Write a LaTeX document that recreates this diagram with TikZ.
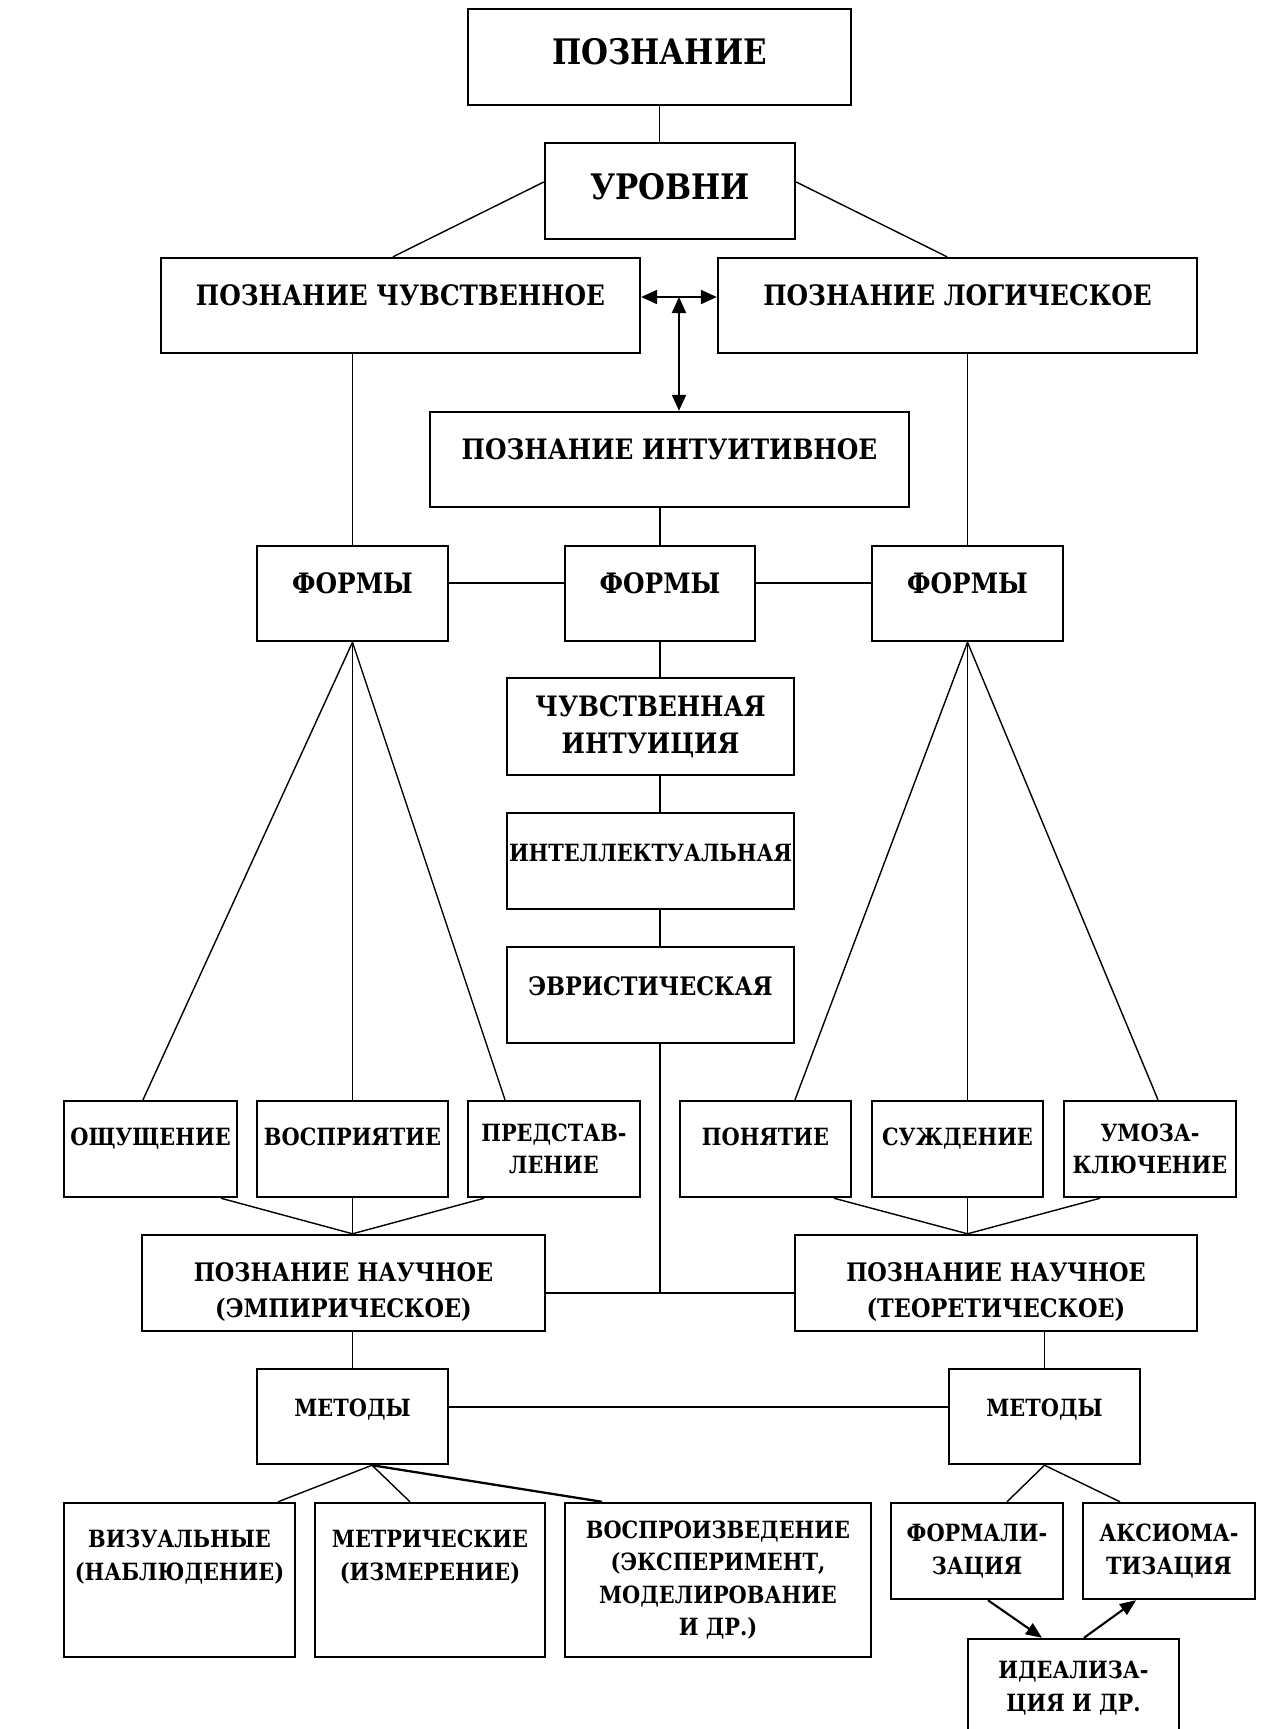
\documentclass[tikz,border=0pt]{standalone}
\usepackage{fontspec}
\setmainfont{DejaVu Serif}[FakeStretch=0.88]
\usetikzlibrary{arrows.meta, calc}

\newcommand{\titlefont}{\fontsize{20}{24}\selectfont\bfseries}
\newcommand{\boxfont}{\fontsize{16}{21}\selectfont\bfseries}
\newcommand{\midboxfont}{\fontsize{14.5}{20.5}\selectfont\bfseries}
\newcommand{\smallboxfont}{\fontsize{13.5}{18.5}\selectfont\bfseries}

\begin{document}
\begin{tikzpicture}[
    x=0.02cm, y=-0.02cm, line width=0.8pt,
    box/.style={draw, line width=1.4pt, align=center, inner sep=1pt,
                font=\boxfont},
    midbox/.style={box, font=\midboxfont},
    smallbox/.style={box, font=\smallboxfont},
    lift/.style={text height=12pt, text depth=12pt},
    rowlift/.style={text height=12pt, text depth=16pt},
    link/.style={line width=1.3pt},
    dbl/.style={line width=1.2pt, {Triangle[length=0.32cm, width=0.28cm]}-{Triangle[length=0.32cm, width=0.28cm]}},
    arr/.style={line width=1.2pt, -{Triangle[length=0.32cm, width=0.26cm]}}
  ]
    \useasboundingbox (0,0) rectangle (1261,1729);

    % levels
    \node[box, font=\titlefont, text height=15pt, text depth=6pt,
          minimum width=7.66cm, minimum height=1.92cm] (top) at (659.5,57) {ПОЗНАНИЕ};
    \node[box, font=\titlefont, text height=15pt, text depth=5pt,
          minimum width=5cm, minimum height=1.92cm] (lev) at (670,191) {УРОВНИ};
    \node[box, lift, minimum width=9.58cm, minimum height=1.9cm] (sens) at (400.5,305.5) {ПОЗНАНИЕ ЧУВСТВЕННОЕ};
    \node[box, lift, minimum width=9.58cm, minimum height=1.9cm] (logic) at (957.5,305.5) {ПОЗНАНИЕ ЛОГИЧЕСКОЕ};
    \node[box, lift, minimum width=9.58cm, minimum height=1.9cm] (intu) at (669.5,459.5) {ПОЗНАНИЕ ИНТУИТИВНОЕ};

    % forms
    \node[box, lift, minimum width=3.82cm, minimum height=1.9cm] (fl) at (352.5,593.5) {ФОРМЫ};
    \node[box, lift, minimum width=3.8cm, minimum height=1.9cm] (fc) at (660,593.5) {ФОРМЫ};
    \node[box, lift, minimum width=3.82cm, minimum height=1.9cm] (fr) at (967.5,593.5) {ФОРМЫ};

    \node[box, minimum width=5.74cm, minimum height=1.94cm] (si) at (650.5,726.5) {ЧУВСТВЕННАЯ\\ИНТУИЦИЯ};
    \node[smallbox, lift, minimum width=5.74cm, minimum height=1.92cm] (ii) at (650.5,861) {ИНТЕЛЛЕКТУАЛЬНАЯ};
    \node[midbox, lift, minimum width=5.74cm, minimum height=1.92cm] (ei) at (650.5,995) {ЭВРИСТИЧЕСКАЯ};

    \node[smallbox, rowlift, minimum width=3.46cm, minimum height=1.92cm] (sen) at (150.5,1149) {ОЩУЩЕНИЕ};
    \node[smallbox, rowlift, minimum width=3.82cm, minimum height=1.92cm] (per) at (352.5,1149) {ВОСПРИЯТИЕ};
    \node[smallbox, minimum width=3.44cm, minimum height=1.92cm] (rep) at (554,1149) {ПРЕДСТАВ-\\ЛЕНИЕ};
    \node[smallbox, rowlift, minimum width=3.42cm, minimum height=1.92cm] (con) at (765.5,1149) {ПОНЯТИЕ};
    \node[smallbox, rowlift, minimum width=3.42cm, minimum height=1.92cm] (jud) at (957.5,1149) {СУЖДЕНИЕ};
    \node[smallbox, minimum width=3.44cm, minimum height=1.92cm] (inf) at (1150,1149) {УМОЗА-\\КЛЮЧЕНИЕ};

    % scientific knowledge and methods
    \node[midbox, text height=42pt, minimum width=8.06cm, minimum height=1.92cm] (emp) at (343.5,1283) {ПОЗНАНИЕ НАУЧНОЕ\\(ЭМПИРИЧЕСКОЕ)};
    \node[midbox, text height=42pt, minimum width=8.04cm, minimum height=1.92cm] (theo) at (996,1283) {ПОЗНАНИЕ НАУЧНОЕ\\(ТЕОРЕТИЧЕСКОЕ)};
    \node[smallbox, lift, minimum width=3.82cm, minimum height=1.9cm] (ml) at (352.5,1416.5) {МЕТОДЫ};
    \node[smallbox, lift, minimum width=3.82cm, minimum height=1.9cm] (mr) at (1044.5,1416.5) {МЕТОДЫ};

    \node[smallbox, minimum width=4.62cm, minimum height=3.08cm] (viz) at (179.5,1580) {ВИЗУАЛЬНЫЕ\\(НАБЛЮДЕНИЕ)\\[10pt]};
    \node[smallbox, minimum width=4.6cm, minimum height=3.08cm] (met) at (430,1580) {МЕТРИЧЕСКИЕ\\(ИЗМЕРЕНИЕ)\\[10pt]};
    \node[smallbox, minimum width=6.12cm, minimum height=3.08cm] (vos) at (718,1580) {ВОСПРОИЗВЕДЕНИЕ\\(ЭКСПЕРИМЕНТ,\\МОДЕЛИРОВАНИЕ\\И ДР.)};
    \node[smallbox, minimum width=3.44cm, minimum height=1.92cm] (fml) at (977,1551) {ФОРМАЛИ-\\ЗАЦИЯ};
    \node[smallbox, minimum width=3.44cm, minimum height=1.92cm] (ax) at (1169,1551) {АКСИОМА-\\ТИЗАЦИЯ};
    \node[smallbox, minimum width=4.22cm, minimum height=1.96cm] (idl) at (1073.5,1688) {ИДЕАЛИЗА-\\ЦИЯ И ДР.};

    % connectors
    \draw (top.south) -- (top.south |- lev.north);
    \draw ([yshift=0.18cm]lev.west) -- ([xshift=-0.15cm]sens.north);
    \draw ([yshift=0.18cm]lev.east) -- ([xshift=-0.21cm]logic.north);
    \coordinate (mid) at ($([yshift=0.17cm]sens.east)!0.5!([yshift=0.17cm]logic.west)$);
    \draw[dbl] ([yshift=0.17cm]sens.east) -- ([yshift=0.17cm]logic.west);
    \draw[dbl] (mid) -- (mid |- intu.north);

    \draw (sens.south -| fl.north) -- (fl.north);
    \draw (logic.south -| fr.north) -- (fr.north);
    \draw (intu.south -| fc.north) -- (fc.north);
    \draw[link] ([yshift=0.21cm]fl.east) -- ([yshift=0.21cm]fc.west);
    \draw[link] ([yshift=0.21cm]fc.east) -- ([yshift=0.21cm]fr.west);

    \draw (fc.south) -- (fc.south |- si.north);
    \draw (si.south -| fc.south) -- (ii.north -| fc.south);
    \draw (ii.south -| fc.south) -- (ei.north -| fc.south);
    \coordinate (join) at ([yshift=-0.2cm]emp.east -| fc.south);
    \draw (ei.south -| join) -- (join);
    \draw[link] ([yshift=-0.2cm]emp.east) -- ([yshift=-0.2cm]theo.west);

    \draw (fl.south) -- ([xshift=-0.15cm]sen.north);
    \draw (fl.south) -- (per.north);
    \draw (fl.south) -- ([xshift=-0.98cm]rep.north);
    \draw (fr.south) -- ([xshift=0.59cm]con.north);
    \draw (fr.south) -- (fr.south |- jud.north);
    \draw (fr.south) -- ([xshift=0.16cm]inf.north);

    \coordinate (ej) at (per.south |- emp.north);
    \draw ([xshift=1.41cm]sen.south) -- (ej);
    \draw (per.south) -- (ej);
    \draw ([xshift=-1.4cm]rep.south) -- (ej);
    \coordinate (tj) at (fr.south |- theo.north);
    \draw ([xshift=1.37cm]con.south) -- (tj);
    \draw (jud.south -| tj) -- (tj);
    \draw ([xshift=-1cm]inf.south) -- (tj);

    \draw (ml.north |- emp.south) -- (ml.north);
    \draw (mr.north |- theo.south) -- (mr.north);
    \draw[link] ([yshift=0.19cm]ml.east) -- ([yshift=0.19cm]mr.west);

    \coordinate (mb) at ([xshift=0.39cm]ml.south);
    \draw (mb) -- ([xshift=1.97cm]viz.north);
    \draw (mb) -- ([xshift=-0.4cm]met.north);
    \draw[link] (mb) -- ([xshift=-2.32cm]vos.north);
    \draw (mr.south) -- ([xshift=0.6cm]fml.north);
    \draw (mr.south) -- ([xshift=-0.98cm]ax.north);
    \draw[arr] ([xshift=0.22cm]fml.south) -- ([xshift=-0.63cm]idl.north);
    \draw[arr] ([xshift=0.21cm]idl.north) -- ([xshift=-0.66cm]ax.south);
  \end{tikzpicture}
\end{document}
